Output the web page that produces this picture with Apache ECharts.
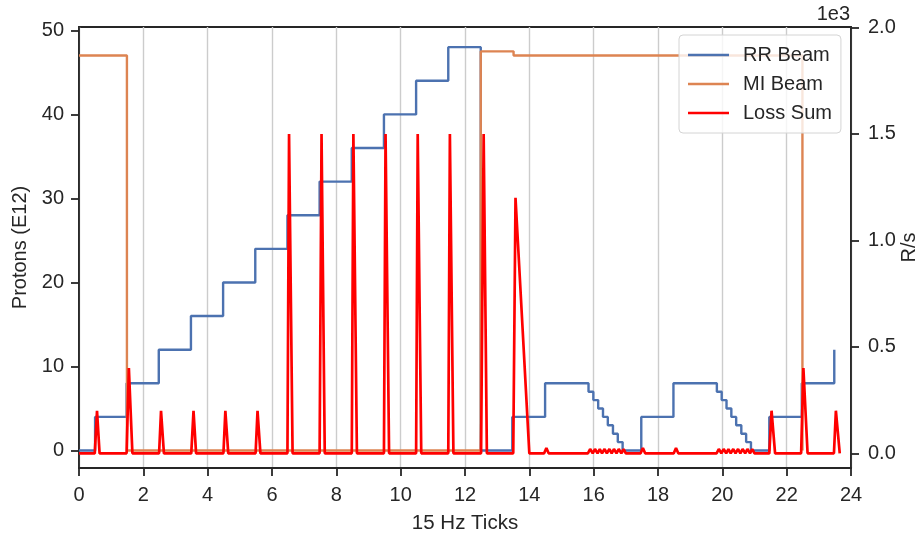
<!DOCTYPE html>
<html>
<head>
<meta charset="utf-8">
<script src="https://cdn.jsdelivr.net/npm/echarts@6/dist/echarts.min.js"></script>
<style>
html,body{margin:0;padding:0;background:#fff;}
#chart{width:919px;height:533px;}
</style>
</head>
<body>
<div id="chart"></div>
<script>
// ---- data ----
const rrT = [0, 0.50, 1.48, 2.48, 3.48, 4.48, 5.48, 6.48, 7.48, 8.48, 9.48, 10.48, 11.48, 12.49, 13.47, 14.49,
  15.84, 15.99, 16.14, 16.29, 16.44, 16.60, 16.75, 16.90, 17.48, 18.48,
  19.83, 19.98, 20.13, 20.28, 20.43, 20.59, 20.74, 20.89, 21.46, 22.47, 23.48];
const rrV = [0, 4, 8, 12, 16, 20, 24, 28, 32, 36, 40, 44, 48, 0, 4, 8,
  7, 6, 5, 4, 3, 2, 1, 0, 4, 8,
  7, 6, 5, 4, 3, 2, 1, 0, 4, 8, 12];

const miT = [0, 1.49, 12.49, 13.51, 22.49];
const miV = [47, 0, 47.5, 47, 0];

const lossT = [0, 0.49, 0.56, 0.64, 1.48, 1.55, 1.66, 2.49, 2.55, 2.64, 3.49, 3.56, 3.64,
  4.49, 4.55, 4.64, 5.49, 5.55, 5.64, 6.48, 6.53, 6.64, 7.48, 7.54, 7.64, 8.48, 8.53, 8.64,
  9.48, 9.53, 9.64, 10.48, 10.53, 10.64, 11.48, 11.53, 11.64, 12.50, 12.58, 12.68,
  13.50, 13.57, 14.00, 14.46, 14.53, 14.60,
  15.82, 15.89, 15.97, 16.04, 16.12, 16.19, 16.26, 16.34, 16.41, 16.49, 16.56, 16.63, 16.71, 16.78, 16.86, 16.93, 17.00,
  17.46, 17.53, 17.60, 18.49, 18.56, 18.63,
  19.82, 19.89, 19.97, 20.04, 20.12, 20.19, 20.26, 20.34, 20.41, 20.49, 20.56, 20.63, 20.71, 20.78, 20.86, 20.93, 21.00,
  21.46, 21.53, 21.64, 22.45, 22.52, 22.65, 23.47, 23.53, 23.65];
const lossV = [0, 0, 200, 0, 0, 400, 0, 0, 200, 0, 0, 200, 0,
  0, 200, 0, 0, 200, 0, 0, 1500, 0, 0, 1500, 0, 0, 1500, 0,
  0, 1500, 0, 0, 1500, 0, 0, 1500, 0, 0, 1500, 0,
  0, 1200, 0, 0, 25, 0,
  0, 20, 0, 20, 0, 20, 0, 20, 0, 20, 0, 20, 0, 20, 0, 20, 0,
  0, 25, 0, 0, 25, 0,
  0, 20, 0, 20, 0, 20, 0, 20, 0, 20, 0, 20, 0, 20, 0, 20, 0,
  0, 200, 0, 0, 400, 0, 0, 200, 0];

const xTicks = [0, 2, 4, 6, 8, 10, 12, 14, 16, 18, 20, 22, 24];
const leftTicks = [0, 10, 20, 30, 40, 50];
const rightTicks = [0, 500, 1000, 1500, 2000];
const seriesNames = ['RR Beam', 'MI Beam', 'Loss Sum'];

// ---- chart ----
const FONT = 'Liberation Sans, Arial, sans-serif';
const DARK = '#262626';
const chart = echarts.init(document.getElementById('chart'), null, {renderer: 'canvas'});
const pairs = (a, b) => a.map((t, i) => [t, b[i]]);

chart.setOption({
  animation: false,
  backgroundColor: '#ffffff',
  textStyle: {fontFamily: FONT},
  grid: {left: 79, right: 68, top: 27, bottom: 65, show: true, borderColor: DARK, borderWidth: 1.8,
    backgroundColor: 'transparent', containLabel: false, outerBoundsMode: 'none'},
  legend: {
    data: seriesNames, orient: 'vertical', left: 679, top: 35,
    icon: 'rect', itemWidth: 41, itemHeight: 2.5, itemGap: 9,
    padding: [10, 9, 10, 9],
    textStyle: {fontSize: 20, color: DARK, fontFamily: FONT, padding: [0, 0, 0, 9]},
    backgroundColor: 'rgba(255,255,255,0.8)', borderColor: '#d4d4d4', borderWidth: 1, borderRadius: 4
  },
  graphic: [{
    type: 'text', style: {text: '1e3', x: 850, y: 14, textAlign: 'right', textVerticalAlign: 'middle',
      font: '20px ' + FONT, fill: DARK}
  }],
  xAxis: {
    type: 'value', min: 0, max: 24, interval: 2,
    axisLine: {show: true, onZero: false, lineStyle: {color: DARK, width: 1.8}},
    axisTick: {show: true, length: 8, lineStyle: {color: DARK, width: 1.8}, customValues: xTicks},
    axisLabel: {fontSize: 20, color: DARK, margin: 17, fontFamily: FONT, customValues: xTicks},
    splitLine: {show: true, lineStyle: {color: '#cccccc', width: 1.4}},
    name: '15 Hz Ticks', nameLocation: 'middle', nameGap: 45,
    nameTextStyle: {fontSize: 20.5, color: DARK, fontFamily: FONT}
  },
  yAxis: [{
    type: 'value', min: -2.08, max: 50.4, position: 'left',
    axisLine: {show: true, onZero: false, lineStyle: {color: DARK, width: 1.8}},
    axisTick: {show: true, length: 8, lineStyle: {color: DARK, width: 1.8}, customValues: leftTicks},
    axisLabel: {fontSize: 20, color: DARK, margin: 15, fontFamily: FONT, customValues: leftTicks},
    splitLine: {show: false},
    name: 'Protons (E12)', nameLocation: 'middle', nameGap: 49, nameRotate: 90,
    nameTextStyle: {fontSize: 20, color: DARK, fontFamily: FONT}
  }, {
    type: 'value', min: -69, max: 2002, position: 'right',
    axisLine: {show: true, onZero: false, lineStyle: {color: DARK, width: 1.8}},
    axisTick: {show: true, length: 8, lineStyle: {color: DARK, width: 1.8}, customValues: rightTicks},
    axisLabel: {fontSize: 20, color: DARK, margin: 17, fontFamily: FONT, customValues: rightTicks,
      formatter: v => (v / 1000).toFixed(1)},
    splitLine: {show: false},
    name: 'R/s', nameLocation: 'middle', nameGap: 48, nameRotate: 90, nameMoveOverlap: false,
    nameTextStyle: {fontSize: 20, color: DARK, fontFamily: FONT}
  }],
  series: [{
    name: seriesNames[0], type: 'line', yAxisIndex: 0, step: 'end', symbol: 'none',
    color: '#4c72b0', lineStyle: {color: '#4c72b0', width: 2.4},
    data: pairs(rrT, rrV)
  }, {
    name: seriesNames[1], type: 'line', yAxisIndex: 0, step: 'end', symbol: 'none',
    color: '#dd8452', lineStyle: {color: '#dd8452', width: 2.4},
    data: pairs(miT, miV)
  }, {
    name: seriesNames[2], type: 'line', yAxisIndex: 1, symbol: 'none',
    color: '#ff0000', lineStyle: {color: '#ff0000', width: 2.7},
    data: pairs(lossT, lossV)
  }]
});
</script>
</body>
</html>
